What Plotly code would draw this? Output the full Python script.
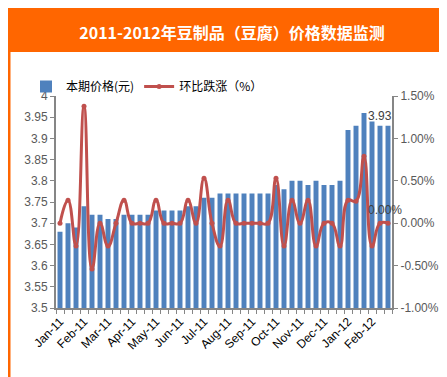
import plotly.graph_objects as go

# ---------------- data ----------------
months = ["Jan-11", "Feb-11", "Mar-11", "Apr-11", "May-11", "Jun-11", "Jul-11",
          "Aug-11", "Sep-11", "Oct-11", "Nov-11", "Dec-11", "Jan-12", "Feb-12"]
periods_per_month = 3

price = [3.68, 3.70, 3.69, 3.74, 3.72, 3.72, 3.71, 3.71, 3.72, 3.72,
         3.72, 3.72, 3.73, 3.73, 3.73, 3.73, 3.74, 3.74, 3.76, 3.76,
         3.77, 3.77, 3.77, 3.77, 3.77, 3.77, 3.77, 3.79, 3.78, 3.80,
         3.80, 3.79, 3.80, 3.79, 3.79, 3.80, 3.92, 3.93, 3.96, 3.94,
         3.93, 3.93]

change_pct = [0.00, 0.27, -0.27, 1.38, -0.54, 0.00, -0.27, 0.00, 0.27, 0.00,
              0.00, 0.00, 0.27, 0.00, 0.00, 0.00, 0.27, 0.00, 0.53, 0.00,
              -0.27, 0.27, 0.00, 0.00, 0.00, 0.00, 0.00, 0.53, -0.27, 0.27,
              0.00, 0.27, -0.27, 0.00, 0.00, -0.27, 0.27, 0.26, 0.79, -0.27,
              0.00, 0.00]

left_ticks = [3.5, 3.55, 3.6, 3.65, 3.7, 3.75, 3.8, 3.85, 3.9, 3.95, 4.0]
left_tick_text = ["3.5", "3.55", "3.6", "3.65", "3.7", "3.75", "3.8", "3.85", "3.9", "3.95", "4"]
right_ticks = [-1.0, -0.5, 0.0, 0.5, 1.0, 1.5]
right_tick_text = ["-1.00%", "-0.50%", "0.00%", "0.50%", "1.00%", "1.50%"]

bar_name = "本期价格(元)"
line_name = "环比跌涨（%）"
title_text = "2011-2012年豆制品（豆腐）价格数据监测"
price_label_idx = 40
change_label_idx = 41

# ---------------- layout constants ----------------
W, H = 447, 377
ML, MR, MT, MB = 48, 63, 88, 77
PW, PH = W - ML - MR, H - MT - MB

def px_x(X):
    return (X - ML) / PW

def px_y(Y):
    return (H - MB - Y) / PH

ORANGE = "#FF6600"
BLUE = "#4F81BD"
RED = "#C0504D"
AXIS = "#868686"
TXT = "#595959"
FONT = "Liberation Sans, Noto Sans CJK SC, sans-serif"

n = len(price)
xs = list(range(n))

fig = go.Figure()
fig.add_trace(go.Bar(
    x=xs, y=price, name=bar_name, marker=dict(color=BLUE, line=dict(width=0)),
    width=0.62, yaxis="y",
))
fig.add_trace(go.Scatter(
    x=xs, y=change_pct, name=line_name, yaxis="y2",
    mode="lines+markers",
    line=dict(color=RED, width=3, shape="spline", smoothing=1.3),
    marker=dict(color=RED, size=5),
))

tickvals = [i * periods_per_month for i in range(len(months))]

fig.update_layout(
    width=W, height=H,
    margin=dict(l=ML, r=MR, t=MT, b=MB, pad=0),
    paper_bgcolor="white", plot_bgcolor="white",
    font=dict(family=FONT, size=12, color=TXT),
    showlegend=True,
    legend=dict(orientation="h", x=px_x(18), xanchor="left", y=px_y(64), yanchor="top",
                font=dict(family="Noto Sans CJK SC, sans-serif", size=12, color="#000000"),
                bgcolor="rgba(0,0,0,0)", itemwidth=30, tracegroupgap=0,
                traceorder="normal"),
    title=dict(text=title_text, x=224 / W, xanchor="center", y=1 - 25 / H, yanchor="middle",
               xref="container", yref="container",
               font=dict(family="Noto Sans CJK SC, sans-serif", size=16, color="white", weight="bold")),
    xaxis=dict(
        range=[-0.5, n - 0.5], tickmode="array", tickvals=tickvals, ticktext=months,
        tickangle=-45, ticks="", showgrid=False, zeroline=False,
        showline=True, linecolor=AXIS, linewidth=2,
        tickfont=dict(family=FONT, size=12, color="#000000"),
        minor=dict(tickmode="array", tickvals=[i - 0.5 for i in range(n + 1)],
                   ticks="outside", ticklen=4, tickcolor=AXIS, tickwidth=1, showgrid=False),
    ),
    yaxis=dict(
        range=[3.5, 4.0], tickmode="array", tickvals=left_ticks, ticktext=left_tick_text,
        showgrid=False, zeroline=False, showline=True, linecolor=AXIS, linewidth=2,
        ticks="outside", ticklen=4, tickcolor=AXIS,
        tickfont=dict(family=FONT, size=12, color=TXT),
    ),
    yaxis2=dict(
        range=[-1.0, 1.5], tickmode="array", tickvals=right_ticks, ticktext=right_tick_text,
        overlaying="y", side="right", showgrid=False, zeroline=False,
        showline=True, linecolor=AXIS, linewidth=2,
        ticks="outside", ticklen=4, tickcolor=AXIS,
        tickfont=dict(family=FONT, size=12, color=TXT),
    ),
    bargap=0.38,
    shapes=[
        dict(type="rect", xref="paper", yref="paper",
             x0=px_x(0), x1=px_x(W), y0=px_y(0), y1=px_y(44),
             fillcolor=ORANGE, line=dict(width=0), layer="below"),
        dict(type="rect", xref="paper", yref="paper",
             x0=px_x(1), x1=px_x(W - 1.5), y0=px_y(1), y1=px_y(H - 1.5),
             fillcolor="rgba(0,0,0,0)", line=dict(color=ORANGE, width=3), layer="above"),
    ],
    annotations=[
        dict(x=price_label_idx, y=price[price_label_idx], xref="x", yref="y",
             text=f"{price[price_label_idx]:.2f}", showarrow=False,
             yanchor="bottom", yshift=1, font=dict(family=FONT, size=12, color="#404040")),
        dict(x=change_label_idx, y=change_pct[change_label_idx], xref="x", yref="y2",
             text=f"{change_pct[change_label_idx]:.2f}%", showarrow=False,
             yanchor="bottom", yshift=4, xshift=-3,
             font=dict(family=FONT, size=12, color="#404040")),
    ],
)

fig.write_html("out.html")
